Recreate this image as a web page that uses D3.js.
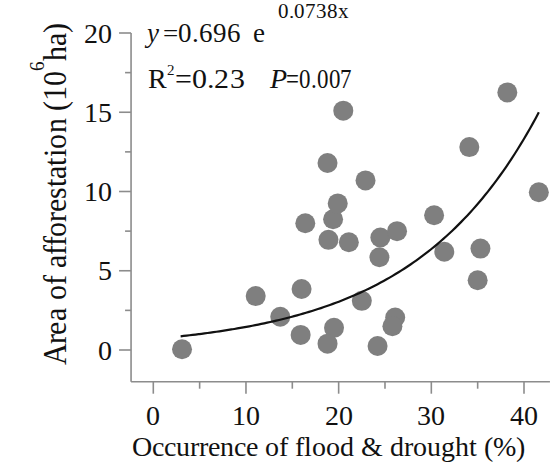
<!DOCTYPE html>
<html><head><meta charset="utf-8">
<script src="https://cdn.jsdelivr.net/npm/d3@7"></script>
<style>
@font-face { font-family: "ChartSerif"; font-style: normal; font-weight: 400;
  src: local("Liberation Serif"), local("LiberationSerif"), local("LiberationSerif-Regular"); }
@font-face { font-family: "ChartSerif"; font-style: italic; font-weight: 400;
  src: local("Liberation Serif Italic"), local("LiberationSerif-Italic"); }
</style>
</head><body style="margin:0">
<svg id="c" width="553" height="468"></svg>
<script>
// ---- data ----
const flood = [3.1, 11.05, 13.7, 16.0, 15.9, 16.4, 18.8, 18.9, 19.4, 19.9, 19.5, 18.8, 20.5, 21.1, 22.5,
               22.9, 24.5, 24.4, 24.2, 26.3, 26.1, 25.8, 30.3, 31.4, 34.1, 35.0, 35.3, 38.2, 41.6];
const area  = [0.05, 3.4, 2.1, 3.85, 0.95, 8.0, 11.8, 6.95, 8.25, 9.25, 1.4, 0.4, 15.1, 6.8, 3.1,
               10.7, 7.1, 5.85, 0.25, 7.5, 2.05, 1.5, 8.5, 6.2, 12.8, 4.4, 6.4, 16.25, 9.95];
const xTicks = [0, 10, 20, 30, 40];
const xMinor = [5, 15, 25, 35];
const yTicks = [0, 5, 10, 15, 20];
const yMinor = [2.5, 7.5, 12.5, 17.5];
const fitA = 0.696, fitB = 0.0738;
const fitRange = [2.95, 41.6];
const xExtent = [-2.4, 42.8];
const yExtent = [-2.0, 20];
const xLabel = "Occurrence of flood & drought (%)";

const SERIF = "ChartSerif, 'Liberation Serif', 'Times New Roman', serif";
const svg = d3.select("#c");
const x = d3.scaleLinear().domain([0, 40]).range([153.3, 524]);
const y = d3.scaleLinear().domain([0, 20]).range([350, 33]);
const axisColor = "#8c8c8c";

// axis lines
svg.append("line").attr("x1", x(xExtent[0])).attr("x2", x(xExtent[1]))
  .attr("y1", y(yExtent[0])).attr("y2", y(yExtent[0]))
  .attr("stroke", axisColor).attr("stroke-width", 1.6);
svg.append("line").attr("x1", x(xExtent[0])).attr("x2", x(xExtent[0]))
  .attr("y1", y(yExtent[0])).attr("y2", y(yExtent[1]))
  .attr("stroke", axisColor).attr("stroke-width", 1.6);

// points
svg.append("g").selectAll("circle").data(flood.map((f, i) => [f, area[i]])).join("circle")
  .attr("cx", d => x(d[0])).attr("cy", d => y(d[1])).attr("r", 10).attr("fill", "#7f7f7f");

// fitted curve y = a e^{bx}
const curve = d3.range(fitRange[0], fitRange[1] + 0.001, (fitRange[1] - fitRange[0]) / 120)
  .map(v => [v, fitA * Math.exp(fitB * v)]);
svg.append("path").datum(curve)
  .attr("d", d3.line().x(d => x(d[0])).y(d => y(d[1])).curve(d3.curveMonotoneX))
  .attr("fill", "none").attr("stroke", "#111").attr("stroke-width", 2.2);

// ticks (drawn from the scales)
const tickG = svg.append("g");
tickG.selectAll(".xt").data(xTicks.concat(xMinor)).join("line")
  .attr("x1", d => x(d)).attr("x2", d => x(d))
  .attr("y1", y(yExtent[0])).attr("y2", d => y(yExtent[0]) + (xTicks.includes(d) ? 12 : 7))
  .attr("stroke", axisColor).attr("stroke-width", 1.6);
tickG.selectAll(".yt").data(yTicks.concat(yMinor)).join("line")
  .attr("y1", d => y(d)).attr("y2", d => y(d))
  .attr("x1", x(xExtent[0])).attr("x2", d => x(xExtent[0]) - (yTicks.includes(d) ? 12 : 6))
  .attr("stroke", axisColor).attr("stroke-width", 1.6);

// texts
const texts = [];
xTicks.forEach(d => texts.push({t: String(d), x: x(d), y: y(yExtent[0]) + 43, s: 28, a: "middle"}));
yTicks.forEach(d => texts.push({t: String(d), x: x(xExtent[0]) - 19, y: y(d) + 9.5, s: 28, a: "end"}));
texts.push({t: "y", x: 146.5, y: 41.7, s: 27, it: true});
texts.push({t: "=0.696", x: 162.5, y: 41.7, s: 27});
texts.push({t: "e", x: 253.3, y: 41.7, s: 27});
texts.push({t: "0.0738x", x: 278.3, y: 18, s: 21});
texts.push({t: "R", x: 147.5, y: 87.5, s: 28});
texts.push({t: "2", x: 166.5, y: 75, s: 15});
texts.push({t: "=0.23", x: 175, y: 87.5, s: 28, k: 1.07});
texts.push({t: "P", x: 270, y: 88, s: 28, it: true});
texts.push({t: "=0.007", x: 285.5, y: 88, s: 28, k: 0.82});
texts.push({t: xLabel, x: 132, y: 456, s: 28});

svg.append("g").selectAll("text").data(texts).join("text")
  .attr("transform", d => `translate(${d.x},${d.y}) scale(${d.k || 1},1)`)
  .attr("font-size", d => d.s)
  .attr("font-family", SERIF)
  .style("font-family", SERIF, "important")
  .attr("font-style", d => d.it ? "italic" : null)
  .attr("text-anchor", d => d.a || "start")
  .attr("fill", "#111")
  .text(d => d.t);

// y axis label (rotated, condensed along its length)
const gl = svg.append("g").attr("transform", "translate(65.5,365) rotate(-90) scale(0.906,1)");
const yl = gl.append("text").attr("fill", "#111")
  .attr("font-family", SERIF).style("font-family", SERIF, "important")
  .attr("font-size", 33);
yl.append("tspan").text("Area of afforestation (10");
yl.append("tspan").text("6").attr("font-size", 21).attr("dy", -22);
yl.append("tspan").text("ha)").attr("dy", 22);
</script>
</body></html>
